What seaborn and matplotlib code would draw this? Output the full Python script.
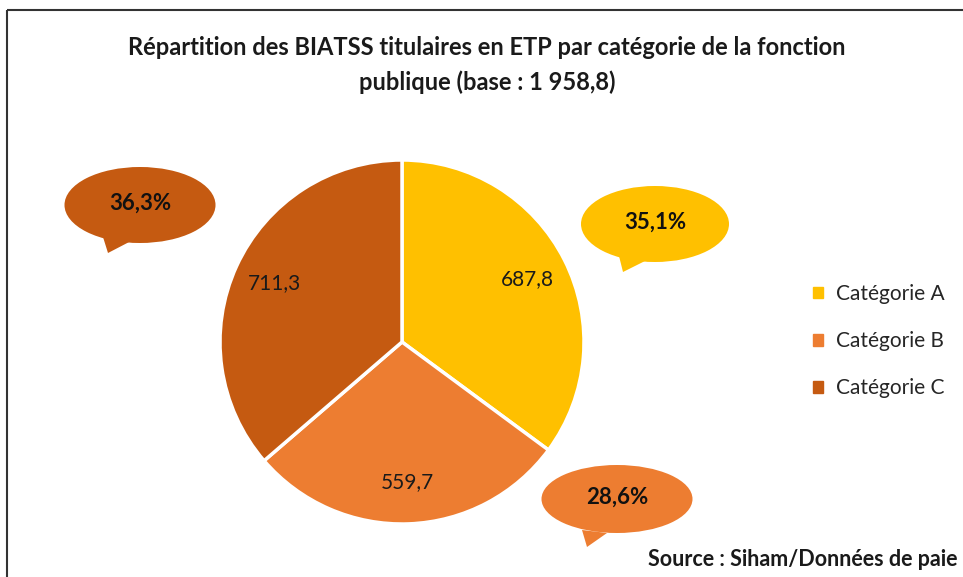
import matplotlib
matplotlib.use("Agg")
import matplotlib.pyplot as plt
import matplotlib.patches as mpatches
import seaborn as sns

# data
categories = ["Catégorie A", "Catégorie B", "Catégorie C"]
etp_values = [687.8, 559.7, 711.3]
colors = ["#FFC000", "#ED7D31", "#C55A11"]
title = "Répartition des BIATSS titulaires en ETP par catégorie de la fonction\npublique (base : 1 958,8)"
source = "Source : Siham/Données de paie"

# bubble positions in pixels (center x, center y, width, height) + tail polygon
bubbles = [
    ((655, 224, 148, 76), [(619, 256), (623, 272), (647, 260)]),
    ((617, 499, 151, 68), [(582, 530), (587, 547), (607, 533)]),
    ((140, 205, 151, 76), [(103, 237), (108, 253), (133, 240)]),
]

sns.set_theme(style="white")
plt.rcParams['font.family'] = ['Lato', 'DejaVu Sans']

W, H = 963, 577
fig = plt.figure(figsize=(W / 100, H / 100), dpi=100)

# pie axes: center (402, 342), radius 182 px
cx, cy, r = 402, 342, 182
ax = fig.add_axes([(cx - r) / W, (H - cy - r) / H, 2 * r / W, 2 * r / H])
wedges, texts = ax.pie(etp_values, colors=colors, startangle=90, counterclock=False,
                       labels=[f"{v:.1f}".replace('.', ',') for v in etp_values],
                       labeldistance=0.77,
                       wedgeprops=dict(edgecolor="white", linewidth=2.5))
for t in texts:
    t.set_ha("center")
    t.set_va("center")
    t.set_fontsize(15)
    t.set_color("#1a1a1a")
ax.set_xlim(-1, 1)
ax.set_ylim(-1, 1)
ax.axis("off")

# overlay for bubbles, border, texts
ov = fig.add_axes([0, 0, 1, 1], zorder=5)
ov.set_xlim(0, W)
ov.set_ylim(H, 0)
ov.axis("off")
ov.patch.set_alpha(0)

total = sum(etp_values)
for (b, tail), val, col in zip(bubbles, etp_values, colors):
    bx, by, bw, bh = b
    ov.add_patch(mpatches.Ellipse((bx, by), bw, bh, facecolor=col, edgecolor="none"))
    ov.add_patch(mpatches.Polygon(tail, closed=True, facecolor=col, edgecolor="none"))
    pct = f"{100 * val / total:.1f}%".replace('.', ',')
    ov.text(bx, by - 2, pct, ha="center", va="center", fontsize=16,
            fontweight="bold", color="#111111")

# border lines (left and top)
ov.plot([7, 7], [10, H], color="#333333", lw=1.5, solid_capstyle="butt")
ov.plot([7, W], [10, 10], color="#333333", lw=1.5, solid_capstyle="butt")

ov.text(487, 65, title, ha="center", va="center", fontsize=17, fontweight="bold",
        color="#1a1a1a", linespacing=1.55)
ov.text(957, 560, source, ha="right", va="center", fontsize=15.5, fontweight="bold",
        color="#1a1a1a")

# legend
handles = [mpatches.Patch(color=c, label=l) for c, l in zip(colors, categories)]
fig.legend(handles=handles, loc="center left", bbox_to_anchor=(794 / W, 1 - 341 / H),
           frameon=False, fontsize=15, handlelength=0.5, handleheight=0.5,
           labelspacing=1.3, handletextpad=0.6)

fig.savefig("out.png", dpi=100)
